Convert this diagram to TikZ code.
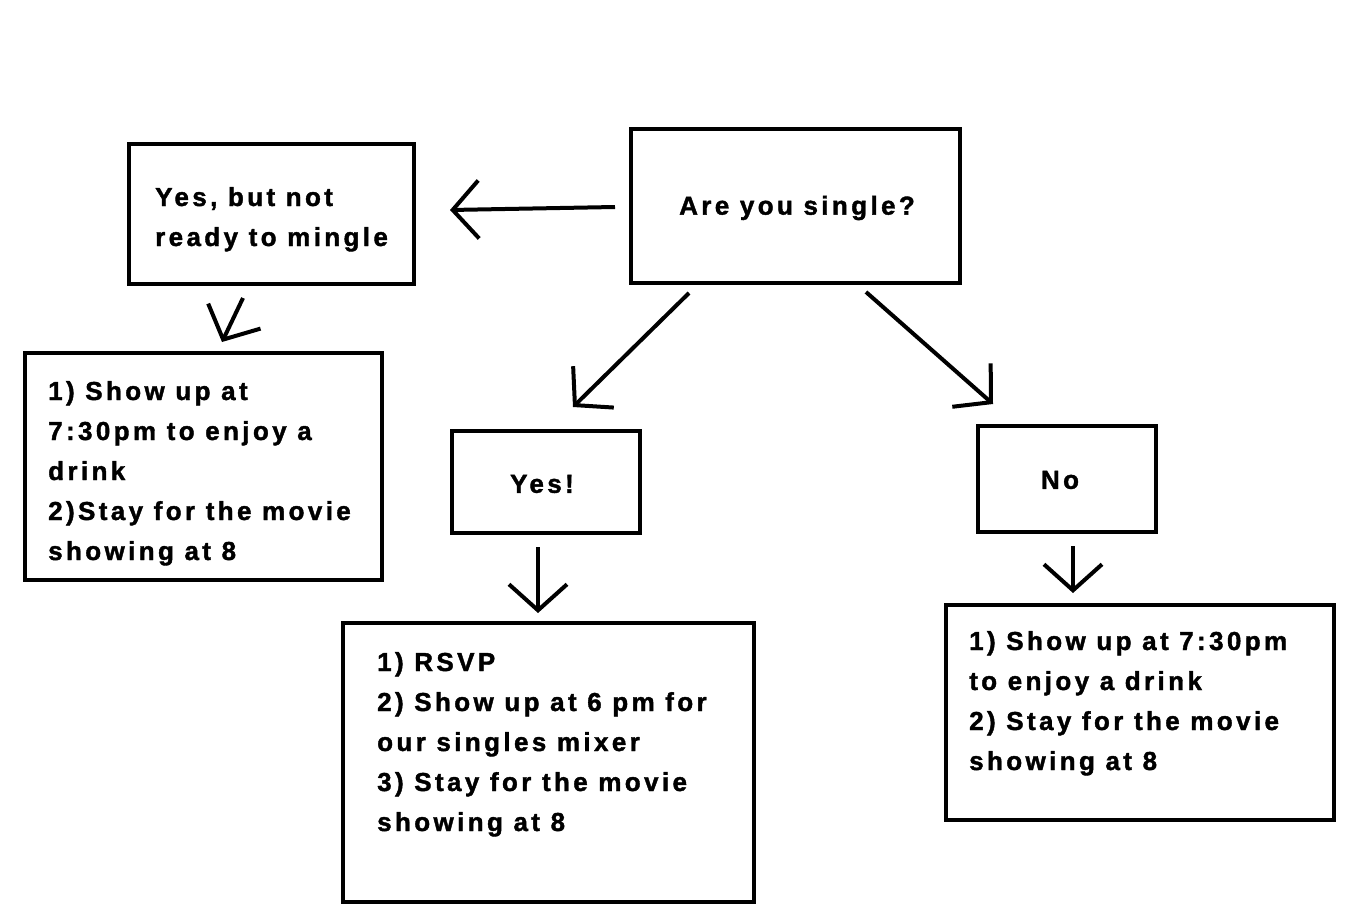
\documentclass[tikz,border=0pt]{standalone}
\usepackage{fontspec}
\newfontfamily\paintfont[LetterSpace=13,BoldFeatures={FakeBold=1.5}]{Liberation Sans}
\usetikzlibrary{arrows.meta}
\begin{document}
\begin{tikzpicture}[x=1pt,y=-1pt,
  box/.style={draw=black,line width=4pt,inner sep=0pt},
  txt/.style={inner sep=0pt,align=left,font={\paintfont\bfseries\fontsize{26}{40}\selectfont}},
  ctxt/.style={inner sep=0pt,font={\paintfont\bfseries\fontsize{26}{40}\selectfont}},
  arr/.style={line width=4pt,-{Straight Barb[length=26pt,width=58pt,line width=4pt]}}]
\useasboundingbox[fill=white] (0,0) rectangle (1352,923);
% boxes
\node[box,minimum width=329pt,minimum height=154pt] (A) at (795.5,206) {};
\node[box,minimum width=285pt,minimum height=140pt] (B) at (271.5,214) {};
\node[box,minimum width=357pt,minimum height=227pt] (C) at (203.5,466.5) {};
\node[box,minimum width=188pt,minimum height=102pt] (D) at (546,482) {};
\node[box,minimum width=178pt,minimum height=106pt] (E) at (1067,479) {};
\node[box,minimum width=411pt,minimum height=279pt] (F) at (548.5,762.5) {};
\node[box,minimum width=388pt,minimum height=215pt] (G) at (1140,712.5) {};
% texts (base anchor = baseline of last line)
\node[ctxt] (At) at (797,208) {Are you single?};
\node[txt,anchor=base west] (Bt) at (155,246) {Yes, but not\\ready to mingle};
\node[txt,anchor=base west] (Ct) at (48,560) {1) Show up at\\7:30pm to enjoy a\\drink\\2)Stay for the movie\\showing at 8};
\node[ctxt] (Dt) at (542,484) {Yes!};
\node[ctxt] (Et) at (1060,480) {No};
\node[txt,anchor=base west] (Ft) at (377,831) {1) RSVP\\2) Show up at 6 pm for\\our singles mixer\\3) Stay for the movie\\showing at 8};
\node[txt,anchor=base west] (Gt) at (969,770) {1) Show up at 7:30pm\\to enjoy a drink\\2) Stay for the movie\\showing at 8};
% connector ends
\coordinate (ab1) at (615,207); \coordinate (ab2) at (450,210);
\coordinate (bc1) at (243,298); \coordinate (bc2) at (222,342);
\coordinate (ad1) at (689,293); \coordinate (ad2) at (573,407);
\coordinate (ae1) at (866,292); \coordinate (ae2) at (993,404);
\coordinate (df1) at (538,547); \coordinate (df2) at (538,613);
\coordinate (eg1) at (1073,546); \coordinate (eg2) at (1073,593);
\draw[arr] (ab1) -- (ab2);
\draw[arr] (bc1) -- (bc2);
\draw[arr] (ad1) -- (ad2);
\draw[arr] (ae1) -- (ae2);
\draw[arr] (df1) -- (df2);
\draw[arr] (eg1) -- (eg2);
\end{tikzpicture}
\end{document}
